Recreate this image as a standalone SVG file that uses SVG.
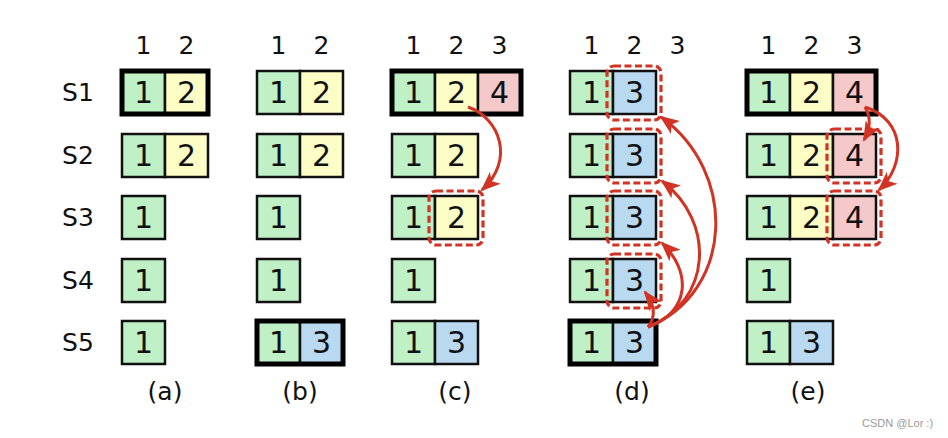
<svg xmlns="http://www.w3.org/2000/svg" width="948" height="438" viewBox="0 0 948 438">
<defs>
<style>
.g{fill:#bff0c6;stroke:#111;stroke-width:2.5}
.y{fill:#fdfdc6;stroke:#111;stroke-width:2.5}
.p{fill:#f5c9c9;stroke:#111;stroke-width:2.5}
.b{fill:#b9d9f1;stroke:#111;stroke-width:2.5}
.hv{fill:none;stroke:#000;stroke-width:5}
.dash{fill:none;stroke:#d13324;stroke-width:3.2;stroke-dasharray:7 3.5}
.n{font-family:"DejaVu Sans",sans-serif;font-size:30px;fill:#111;text-anchor:middle}
.h{font-family:"DejaVu Sans",sans-serif;font-size:25px;fill:#111;text-anchor:middle}
.lab{font-family:"DejaVu Sans",sans-serif;font-size:25px;fill:#111;text-anchor:middle}
.arr{fill:none;stroke:#d13324;stroke-width:3;marker-end:url(#ah)}
.wm{font-family:"Liberation Sans",sans-serif;font-size:11px;fill:#999}
</style>
<marker id="ah" markerUnits="userSpaceOnUse" markerWidth="20" markerHeight="16" viewBox="0 0 20 16" refX="18" refY="8" orient="auto">
<path d="M0,0 L20,8 L0,16 L5,8 z" fill="#d13324"/>
</marker>
</defs>
<rect width="948" height="438" fill="#fff"/>

<g id="row-labels">
<text class="lab" x="78" y="101">S1</text>
<text class="lab" x="78" y="164">S2</text>
<text class="lab" x="78" y="226">S3</text>
<text class="lab" x="78" y="289">S4</text>
<text class="lab" x="78" y="351">S5</text>
</g>

<g id="panel-a">
<text class="h" x="143.5" y="54">1</text><text class="h" x="186.5" y="54">2</text>
<rect class="g" x="122" y="71" width="43" height="43"/><rect class="y" x="165" y="71" width="43" height="43"/>
<rect class="hv" x="122" y="71" width="86" height="43"/>
<text class="n" x="143.5" y="103">1</text><text class="n" x="186.5" y="103">2</text>
<rect class="g" x="122" y="134" width="43" height="43"/><rect class="y" x="165" y="134" width="43" height="43"/>
<text class="n" x="143.5" y="166">1</text><text class="n" x="186.5" y="166">2</text>
<rect class="g" x="122" y="196" width="43" height="43"/><text class="n" x="143.5" y="228">1</text>
<rect class="g" x="122" y="259" width="43" height="43"/><text class="n" x="143.5" y="291">1</text>
<rect class="g" x="122" y="321" width="43" height="43"/><text class="n" x="143.5" y="353">1</text>
<text class="lab" x="165" y="400">(a)</text>
</g>

<g id="panel-b">
<text class="h" x="278.5" y="54">1</text><text class="h" x="321.5" y="54">2</text>
<rect class="g" x="257" y="71" width="43" height="43"/><rect class="y" x="300" y="71" width="43" height="43"/>
<text class="n" x="278.5" y="103">1</text><text class="n" x="321.5" y="103">2</text>
<rect class="g" x="257" y="134" width="43" height="43"/><rect class="y" x="300" y="134" width="43" height="43"/>
<text class="n" x="278.5" y="166">1</text><text class="n" x="321.5" y="166">2</text>
<rect class="g" x="257" y="196" width="43" height="43"/><text class="n" x="278.5" y="228">1</text>
<rect class="g" x="257" y="259" width="43" height="43"/><text class="n" x="278.5" y="291">1</text>
<rect class="g" x="257" y="321" width="43" height="43"/><rect class="b" x="300" y="321" width="43" height="43"/>
<rect class="hv" x="257" y="321" width="86" height="43"/>
<text class="n" x="278.5" y="353">1</text><text class="n" x="321.5" y="353">3</text>
<text class="lab" x="300" y="400">(b)</text>
</g>

<g id="panel-c">
<text class="h" x="413.5" y="54">1</text><text class="h" x="456.5" y="54">2</text><text class="h" x="499.5" y="54">3</text>
<rect class="g" x="392" y="71" width="43" height="43"/><rect class="y" x="435" y="71" width="43" height="43"/><rect class="p" x="478" y="71" width="43" height="43"/>
<rect class="hv" x="392" y="71" width="129" height="43"/>
<text class="n" x="413.5" y="103">1</text><text class="n" x="456.5" y="103">2</text><text class="n" x="499.5" y="103">4</text>
<rect class="g" x="392" y="134" width="43" height="43"/><rect class="y" x="435" y="134" width="43" height="43"/>
<text class="n" x="413.5" y="166">1</text><text class="n" x="456.5" y="166">2</text>
<rect class="g" x="392" y="196" width="43" height="43"/><rect class="y" x="435" y="196" width="43" height="43"/>
<text class="n" x="413.5" y="228">1</text><text class="n" x="456.5" y="228">2</text>
<rect class="dash" x="429" y="191" width="54" height="54" rx="7"/>
<rect class="g" x="392" y="259" width="43" height="43"/><text class="n" x="413.5" y="291">1</text>
<rect class="g" x="392" y="321" width="43" height="43"/><rect class="b" x="435" y="321" width="43" height="43"/>
<text class="n" x="413.5" y="353">1</text><text class="n" x="456.5" y="353">3</text>
<text class="lab" x="455" y="400">(c)</text>
</g>

<g id="panel-d">
<text class="h" x="591.5" y="54">1</text><text class="h" x="634.5" y="54">2</text><text class="h" x="677.5" y="54">3</text>
<rect class="g" x="570" y="71" width="43" height="43"/><rect class="b" x="613" y="71" width="43" height="43"/>
<text class="n" x="591.5" y="103">1</text><text class="n" x="634.5" y="103">3</text>
<rect class="dash" x="607" y="66" width="54" height="54" rx="7"/>
<rect class="g" x="570" y="134" width="43" height="43"/><rect class="b" x="613" y="134" width="43" height="43"/>
<text class="n" x="591.5" y="166">1</text><text class="n" x="634.5" y="166">3</text>
<rect class="dash" x="607" y="129" width="54" height="54" rx="7"/>
<rect class="g" x="570" y="196" width="43" height="43"/><rect class="b" x="613" y="196" width="43" height="43"/>
<text class="n" x="591.5" y="228">1</text><text class="n" x="634.5" y="228">3</text>
<rect class="dash" x="607" y="191" width="54" height="54" rx="7"/>
<rect class="g" x="570" y="259" width="43" height="43"/><rect class="b" x="613" y="259" width="43" height="43"/>
<text class="n" x="591.5" y="291">1</text><text class="n" x="634.5" y="291">3</text>
<rect class="dash" x="607" y="254" width="54" height="54" rx="7"/>
<rect class="g" x="570" y="321" width="43" height="43"/><rect class="b" x="613" y="321" width="43" height="43"/>
<rect class="hv" x="570" y="321" width="86" height="43"/>
<text class="n" x="591.5" y="353">1</text><text class="n" x="634.5" y="353">3</text>
<text class="lab" x="632" y="400">(d)</text>
</g>

<g id="panel-e">
<text class="h" x="768.5" y="54">1</text><text class="h" x="811.5" y="54">2</text><text class="h" x="854.5" y="54">3</text>
<rect class="g" x="747" y="71" width="43" height="43"/><rect class="y" x="790" y="71" width="43" height="43"/><rect class="p" x="833" y="71" width="43" height="43"/>
<rect class="hv" x="747" y="71" width="129" height="43"/>
<text class="n" x="768.5" y="103">1</text><text class="n" x="811.5" y="103">2</text><text class="n" x="854.5" y="103">4</text>
<rect class="g" x="747" y="134" width="43" height="43"/><rect class="y" x="790" y="134" width="43" height="43"/><rect class="p" x="833" y="134" width="43" height="43"/>
<text class="n" x="768.5" y="166">1</text><text class="n" x="811.5" y="166">2</text><text class="n" x="854.5" y="166">4</text>
<rect class="dash" x="827" y="129" width="54" height="54" rx="7"/>
<rect class="g" x="747" y="196" width="43" height="43"/><rect class="y" x="790" y="196" width="43" height="43"/><rect class="p" x="833" y="196" width="43" height="43"/>
<text class="n" x="768.5" y="228">1</text><text class="n" x="811.5" y="228">2</text><text class="n" x="854.5" y="228">4</text>
<rect class="dash" x="827" y="191" width="54" height="54" rx="7"/>
<rect class="g" x="747" y="259" width="43" height="43"/><text class="n" x="768.5" y="291">1</text>
<rect class="g" x="747" y="321" width="43" height="43"/><rect class="b" x="790" y="321" width="43" height="43"/>
<text class="n" x="768.5" y="353">1</text><text class="n" x="811.5" y="353">3</text>
<text class="lab" x="808" y="400">(e)</text>
</g>

<g id="connectors">
<path class="arr" d="M468,107 C500,118 515,160 482,190"/>
<path class="arr" d="M648,327 Q660,312 645,292"/>
<path class="arr" d="M648,327 C690,312 692,272 662,243"/>
<path class="arr" d="M648,327 C712,302 716,222 662,181"/>
<path class="arr" d="M648,327 C734,292 738,172 661,117"/>
<path class="arr" d="M865,107 Q874,122 864,140"/>
<path class="arr" d="M865,107 C906,120 906,165 879,190"/>
</g>

<text class="wm" x="862" y="427">CSDN @Lor :)</text>
</svg>
